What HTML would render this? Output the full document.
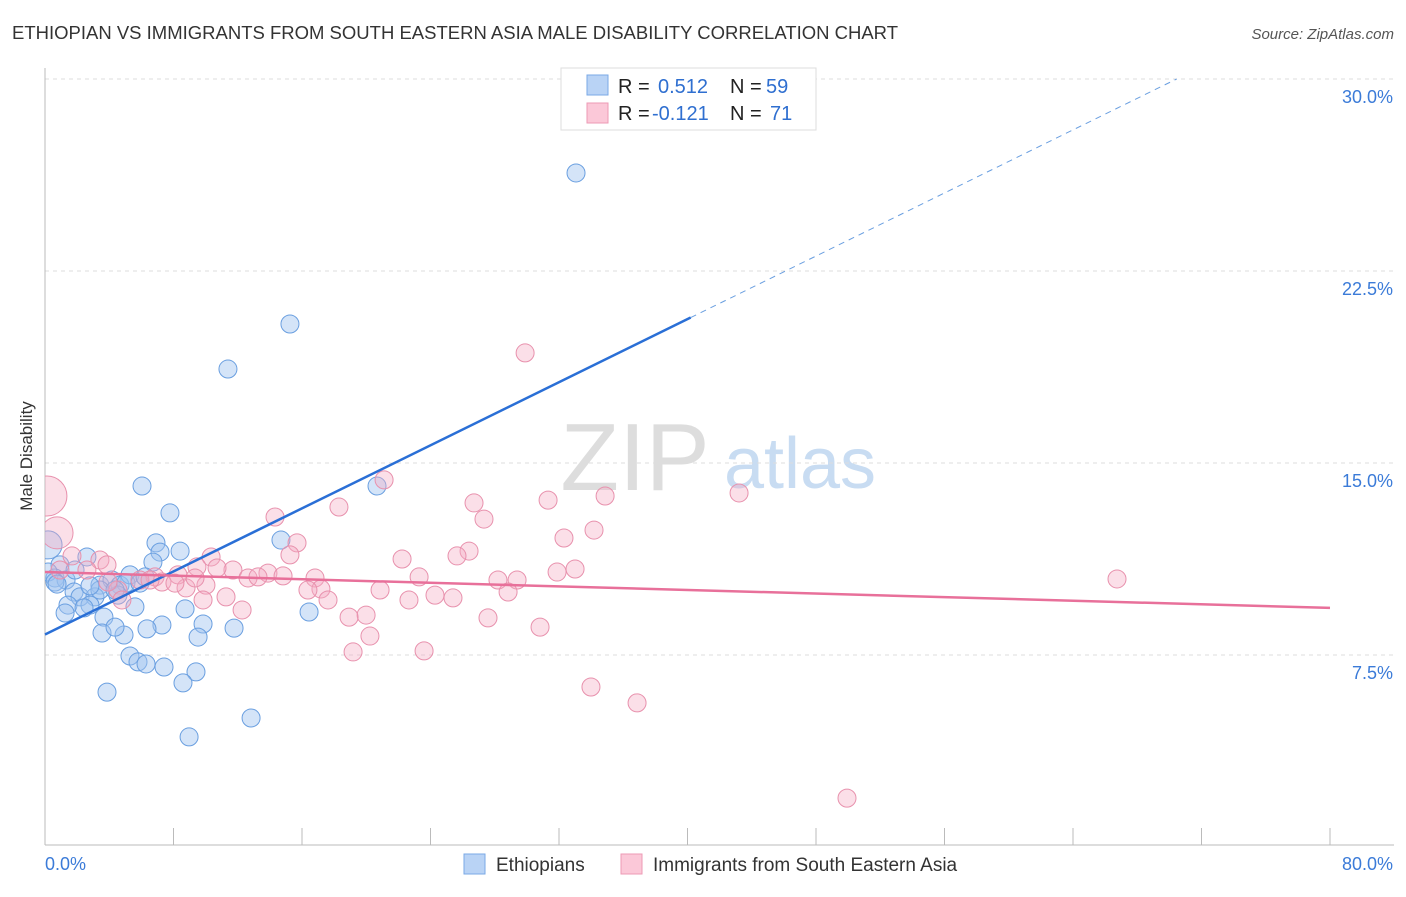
<!DOCTYPE html>
<html><head><meta charset="utf-8"><style>
body{margin:0;background:#fff;font-family:"Liberation Sans",sans-serif;}
svg text{font-family:"Liberation Sans",sans-serif;}
</style></head><body>
<svg width="1406" height="892" xmlns="http://www.w3.org/2000/svg">
<defs><clipPath id="plotclip"><rect x="45" y="60" width="1360" height="785"/></clipPath></defs>
<text x="12" y="39" font-size="18" fill="#333" textLength="886" lengthAdjust="spacingAndGlyphs">ETHIOPIAN VS IMMIGRANTS FROM SOUTH EASTERN ASIA MALE DISABILITY CORRELATION CHART</text>
<text x="1394" y="39" font-size="15" fill="#555" text-anchor="end" font-style="italic">Source: ZipAtlas.com</text>
<text x="32" y="456" font-size="17" fill="#333" text-anchor="middle" transform="rotate(-90 32 456)">Male Disability</text>
<g>
<text x="635" y="490" font-size="96" fill="#ddd" text-anchor="middle" font-family="Liberation Serif,serif">ZIP</text>
<text x="800" y="488" font-size="72" fill="#c8dcf2" text-anchor="middle">atlas</text>
</g>
<g id="grid"></g><g id="axes"></g><g id="pts" clip-path="url(#plotclip)"></g><g id="lines"></g>
<g>
<rect x="561" y="68" width="255" height="62" fill="#fff" stroke="#ddd"/>
<rect x="587" y="75" width="21" height="20" fill="#b9d3f5" stroke="#7aa8e6"/>
<text x="618" y="93" font-size="20" fill="#222">R = </text><text x="658" y="93" font-size="20" fill="#2f6fd0">0.512</text>
<text x="730" y="93" font-size="20" fill="#222">N = </text><text x="766" y="93" font-size="20" fill="#2f6fd0">59</text>
<rect x="587" y="103" width="21" height="20" fill="#fbc8d8" stroke="#ec9ab5"/>
<text x="618" y="120" font-size="20" fill="#222">R = </text><text x="652" y="120" font-size="20" fill="#2f6fd0">-0.121</text>
<text x="730" y="120" font-size="20" fill="#222">N = </text><text x="770" y="120" font-size="20" fill="#2f6fd0">71</text>
</g>
<g>
<rect x="464" y="854" width="21" height="20" fill="#b9d3f5" stroke="#7aa8e6"/>
<text x="496" y="871" font-size="19" fill="#333">Ethiopians</text>
<rect x="621" y="854" width="21" height="20" fill="#fbc8d8" stroke="#ec9ab5"/>
<text x="653" y="871" font-size="19" fill="#333">Immigrants from South Eastern Asia</text>
</g>
<script>
const yTicks=[7.5,15,22.5,30];
const yTickLabels=["7.5%","15.0%","22.5%","30.0%"];
const xTickLabels=["0.0%","80.0%"];
const blueX=[33.06,15.25,11.39,6.04,20.67,7.78,14.69,6.91,8.41,7.16,6.72,0.19,2.61,0.93,0.62,1.31,0.19,3.42,4.17,4.67,5.29,5.04,1.81,2.18,3.11,1.43,2.80,2.43,4.54,5.60,1.25,3.67,8.72,16.44,7.28,6.35,9.84,11.77,3.55,4.92,4.36,9.53,5.29,5.79,6.29,7.41,9.40,8.59,3.86,12.83,8.97,0.62,1.87,5.91,6.23,3.42,4.36,0.75,2.80];
const blueY=[26.33,20.43,18.67,14.10,14.10,13.05,11.99,11.88,11.56,11.52,11.13,11.80,11.33,11.02,10.51,10.43,10.74,10.23,10.43,10.23,10.63,10.31,9.96,9.77,9.77,9.45,9.45,9.34,9.84,9.38,9.14,8.98,9.30,9.18,8.67,8.52,8.71,8.55,8.36,8.28,8.59,8.20,7.46,7.23,7.15,7.03,6.84,6.41,6.05,5.04,4.30,10.35,10.82,10.31,10.55,10.04,10.04,10.27,10.20];
const pinkX=[0.12,0.75,29.89,21.11,43.21,26.71,31.32,34.87,14.32,27.33,18.30,15.69,34.18,32.31,10.34,15.25,26.40,25.65,22.23,1.68,3.42,3.86,2.61,11.70,10.71,13.88,9.46,8.28,6.85,5.91,7.28,12.64,13.26,14.82,16.81,23.29,28.20,29.39,31.88,33.00,66.74,17.18,20.86,16.37,10.02,11.27,8.78,9.84,4.54,4.79,28.83,24.28,25.40,22.66,17.62,12.27,19.99,18.93,27.58,30.82,20.23,19.18,23.60,33.99,36.86,49.93,6.54,9.34,0.93,3.92,8.09];
const pinkY=[13.71,12.27,19.30,14.34,13.83,13.44,13.55,13.71,12.89,12.81,13.28,11.88,12.38,12.07,11.33,11.41,11.56,11.37,11.25,11.37,11.21,11.02,10.82,10.82,10.90,10.70,10.94,10.63,10.55,10.43,10.35,10.51,10.55,10.59,10.51,10.55,10.43,10.43,10.74,10.86,10.47,10.08,10.04,10.04,10.23,9.77,10.12,9.65,10.04,9.65,9.96,9.84,9.73,9.65,9.65,9.26,9.06,8.98,8.95,8.59,8.24,7.62,7.66,6.25,5.63,1.91,10.43,10.51,10.82,10.35,10.31];
const blueFit=[8.30,0.308];
const pinkFit=[10.74,-0.0175];
const NS="http://www.w3.org/2000/svg";
const X=v=>45+v/80*1285, Y=v=>847-v/7.5*192;
function mk(tag,at,parent){const e=document.createElementNS(NS,tag);for(const k in at)e.setAttribute(k,at[k]);document.getElementById(parent).appendChild(e);return e;}
yTicks.forEach((t,i)=>{
 const g=mk('line',{x1:45,x2:1394,y1:Y(t),y2:Y(t),stroke:'#ddd','stroke-dasharray':'4,4'},'grid');
 
 
 const tx=mk('text',{x:1393,y:Y(t)+24,'font-size':18,fill:'#3b7bd8','text-anchor':'end'},'grid');
 tx.textContent=yTickLabels[i];
 
 
});
const ax=mk('line',{x1:45,x2:45,y1:68,y2:845,stroke:'#bbb'},'axes');


const bx=mk('line',{x1:45,x2:1394,y1:845,y2:845,stroke:'#bbb'},'axes');


for(let i=0;i<=10;i++){const t=mk('line',{x1:X(i*8),x2:X(i*8),y1:828,y2:845,stroke:'#bbb'},'axes');
 
 }
[[0,45,'start'],[80,1393,'end']].forEach((d,i)=>{const t=mk('text',{x:d[1],y:870,'font-size':18,fill:'#3b7bd8','text-anchor':d[2]},'axes');t.textContent=xTickLabels[i];
 
 });
blueX.forEach((x,i)=>{const c=mk('circle',{cx:X(x),cy:Y(blueY[i]),r:i==11?14:9,fill:'rgba(160,196,240,0.45)',stroke:'#6a9fe0','stroke-width':1},'pts');
 
 });
pinkX.forEach((x,i)=>{const c=mk('circle',{cx:X(x),cy:Y(pinkY[i]),r:i==0?20:(i==1?16:9),fill:'rgba(245,170,195,0.38)',stroke:'#e891ad','stroke-width':1},'pts');
 
 });
const bf=x=>blueFit[0]+blueFit[1]*x, pf=x=>pinkFit[0]+pinkFit[1]*x;
const b1=mk('line',{x1:X(0),y1:Y(bf(0)),x2:X(40.2),y2:Y(bf(40.2)),stroke:'#2a6fd6','stroke-width':2.5},'lines');


const xe=(30-blueFit[0])/blueFit[1];
const b2=mk('line',{x1:X(40.2),y1:Y(bf(40.2)),x2:X(xe),y2:Y(bf(xe)),stroke:'#6a9fe0','stroke-width':1,'stroke-dasharray':'6,5'},'lines');


const p1=mk('line',{x1:X(0),y1:Y(pf(0)),x2:X(80),y2:Y(pf(80)),stroke:'#e8709a','stroke-width':2.5},'lines');


</script>
</svg>
</body></html>
